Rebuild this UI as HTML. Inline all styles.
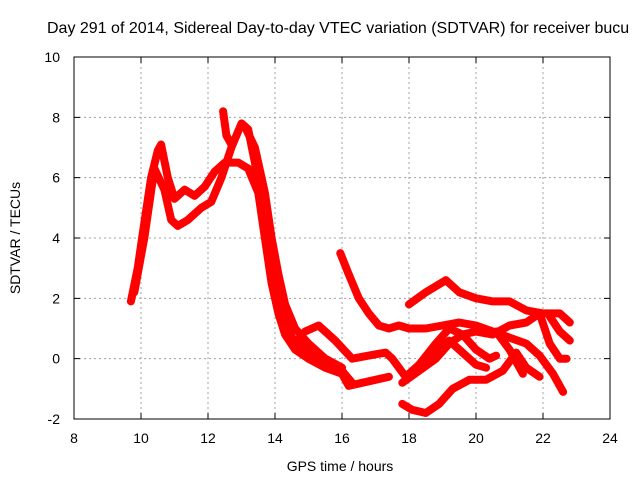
<!DOCTYPE html>
<html><head><meta charset="utf-8"><style>
body{margin:0;background:#fff;width:640px;height:480px;overflow:hidden}
svg{display:block;font-family:"Liberation Sans",sans-serif}
</style></head><body>
<svg id="chart" width="640" height="480">
<text x="47" y="33" font-size="16" fill="#000">Day 291 of 2014, Sidereal Day-to-day VTEC variation (SDTVAR) for receiver bucu</text>
<text x="340" y="471" font-size="14" text-anchor="middle">GPS time / hours</text>
<text transform="translate(20,238) rotate(-90)" font-size="14" text-anchor="middle">SDTVAR / TECUs</text>
<g id="grid"></g><g id="series"></g><g id="axes"></g>
</svg>
<script>
const xTicks=[8,10,12,14,16,18,20,22,24];
const yTicks=[-2,0,2,4,6,8,10];
const trackA=[[9.7,1.9],[9.9,3],[10.1,4.5],[10.3,6],[10.5,6.9],[10.6,7.1],[10.8,6],[11,5.3],[11.3,5.6],[11.6,5.4],[11.9,5.7],[12.2,6.2],[12.5,6.5],[12.9,6.5],[13.2,6.3],[13.5,5.5],[13.7,4],[13.9,2.5],[14.1,1.5],[14.3,0.8],[14.6,0.3],[15,0],[15.5,-0.3],[16,-0.5],[16.2,-0.9],[16.6,-0.8],[17,-0.7],[17.4,-0.6]];
const trackB=[[9.8,2.2],[10.1,4],[10.4,6.3],[10.7,5.6],[10.9,4.6],[11.1,4.4],[11.4,4.6],[11.8,5],[12.1,5.2],[12.4,6],[12.7,7],[13,7.8],[13.2,7.6],[13.4,6.5],[13.6,5],[13.8,3.5],[14,2.3],[14.2,1.5],[14.5,0.7],[15,0.3],[15.5,-0.2],[16,-0.4],[16.3,-0.8]];
const trackB2=[[13.1,7.7],[13.4,7],[13.7,5.5],[13.9,4],[14.1,2.8],[14.3,1.8],[14.6,1],[15,0.5],[15.5,0],[16,-0.3]];
const trackC=[[12.45,8.2],[12.55,7.4],[12.7,7.1]];
const trackD=[[15.95,3.5],[16.2,2.8],[16.5,2],[16.8,1.5],[17.1,1.1],[17.4,1],[17.7,1.1],[18,1],[18.5,1],[19,1.1],[19.5,1.2],[20,1.1],[20.5,0.9],[21,0.7],[21.5,0.5],[21.9,0.1],[22.3,-0.5],[22.6,-1.1]];
const trackE=[[14.9,0.9],[15.3,1.1],[15.8,0.6],[16.3,0],[16.8,0.1],[17.3,0.2],[17.5,0],[17.9,-0.6],[18.3,-0.2],[18.8,0.5],[19.2,1],[19.6,0.8],[20,0.9],[20.5,0.8],[21,1.1],[21.5,1.2],[21.9,1.5],[22.2,0.5],[22.5,0],[22.7,0]];
const trackF=[[17.8,-1.5],[18.1,-1.7],[18.5,-1.8],[18.9,-1.5],[19.3,-1],[19.8,-0.7],[20.3,-0.7],[20.8,-0.4],[21.2,0.2],[21.5,-0.3],[21.9,-0.6]];
const trackG=[[18,1.8],[18.5,2.2],[19.1,2.6],[19.5,2.2],[20,2],[20.5,1.9],[21,1.9],[21.5,1.6],[22,1.5],[22.5,1.5],[22.8,1.2]];
const trackH=[[17.8,-0.8],[18.3,-0.4],[18.8,0],[19.2,0.5],[19.6,0.8],[20,0.3],[20.4,0],[20.6,0.1]];
const trackI=[[18.3,-0.2],[18.8,0.2],[19.2,0.6],[19.6,0.2],[20,-0.2],[20.3,-0.3]];
const trackJ=[[20.6,0.9],[21,0.3],[21.4,-0.5]];
const trackK=[[22.2,1.4],[22.5,0.9],[22.8,0.6]];
const tracks=[trackA,trackB,trackB2,trackC,trackD,trackE,trackF,trackG,trackH,trackI,trackJ,trackK];
const X0=74,X1=610,Y0=57,Y1=419;
const xs=v=>X0+(v-8)/16*(X1-X0);
const ys=v=>Y1-(v+2)/12*(Y1-Y0);
const NS='http://www.w3.org/2000/svg';
const grid=document.getElementById('grid'),axes=document.getElementById('axes'),ser=document.getElementById('series');
function mk(tag,attrs,parent){const e=document.createElementNS(NS,tag);for(const k in attrs)e.setAttribute(k,attrs[k]);parent.appendChild(e);return e;}
xTicks.forEach(t=>{const x=xs(t);
 if(t>8&&t<24){const g=mk('line',{x1:x,x2:x,y1:Y0,y2:Y1,stroke:'#a0a0a0','stroke-dasharray':'2,3'},grid);
 
 }
 const tk=mk('path',{d:`M${x},${Y1}v-6M${x},${Y0}v6`,stroke:'#000'},axes);
 
 
 const l=mk('text',{x:x,y:Y1+24,'font-size':14,'text-anchor':'middle'},axes);l.textContent=t;
 
 });
yTicks.forEach(t=>{const y=ys(t);
 if(t>-2&&t<10){const g=mk('line',{x1:X0,x2:X1,y1:y,y2:y,stroke:'#a0a0a0','stroke-dasharray':'2,3'},grid);
 
 }
 const tk=mk('path',{d:`M${X0},${y}h6M${X1},${y}h-6`,stroke:'#000'},axes);
 
 
 const l=mk('text',{x:X0-14,y:y+5,'font-size':14,'text-anchor':'end'},axes);l.textContent=t;
 
 });
const fr=mk('rect',{x:X0,y:Y0,width:X1-X0,height:Y1-Y0,fill:'none',stroke:'#000'},axes);


tracks.forEach(tr=>{const d=tr.map((p,i)=>(i?'L':'M')+xs(p[0]).toFixed(1)+','+ys(p[1]).toFixed(1)).join('');
 const p=mk('path',{d:d,fill:'none',stroke:'#ff0000','stroke-width':8,'stroke-linejoin':'round','stroke-linecap':'round'},ser);
 
 });
</script>
</body></html>
